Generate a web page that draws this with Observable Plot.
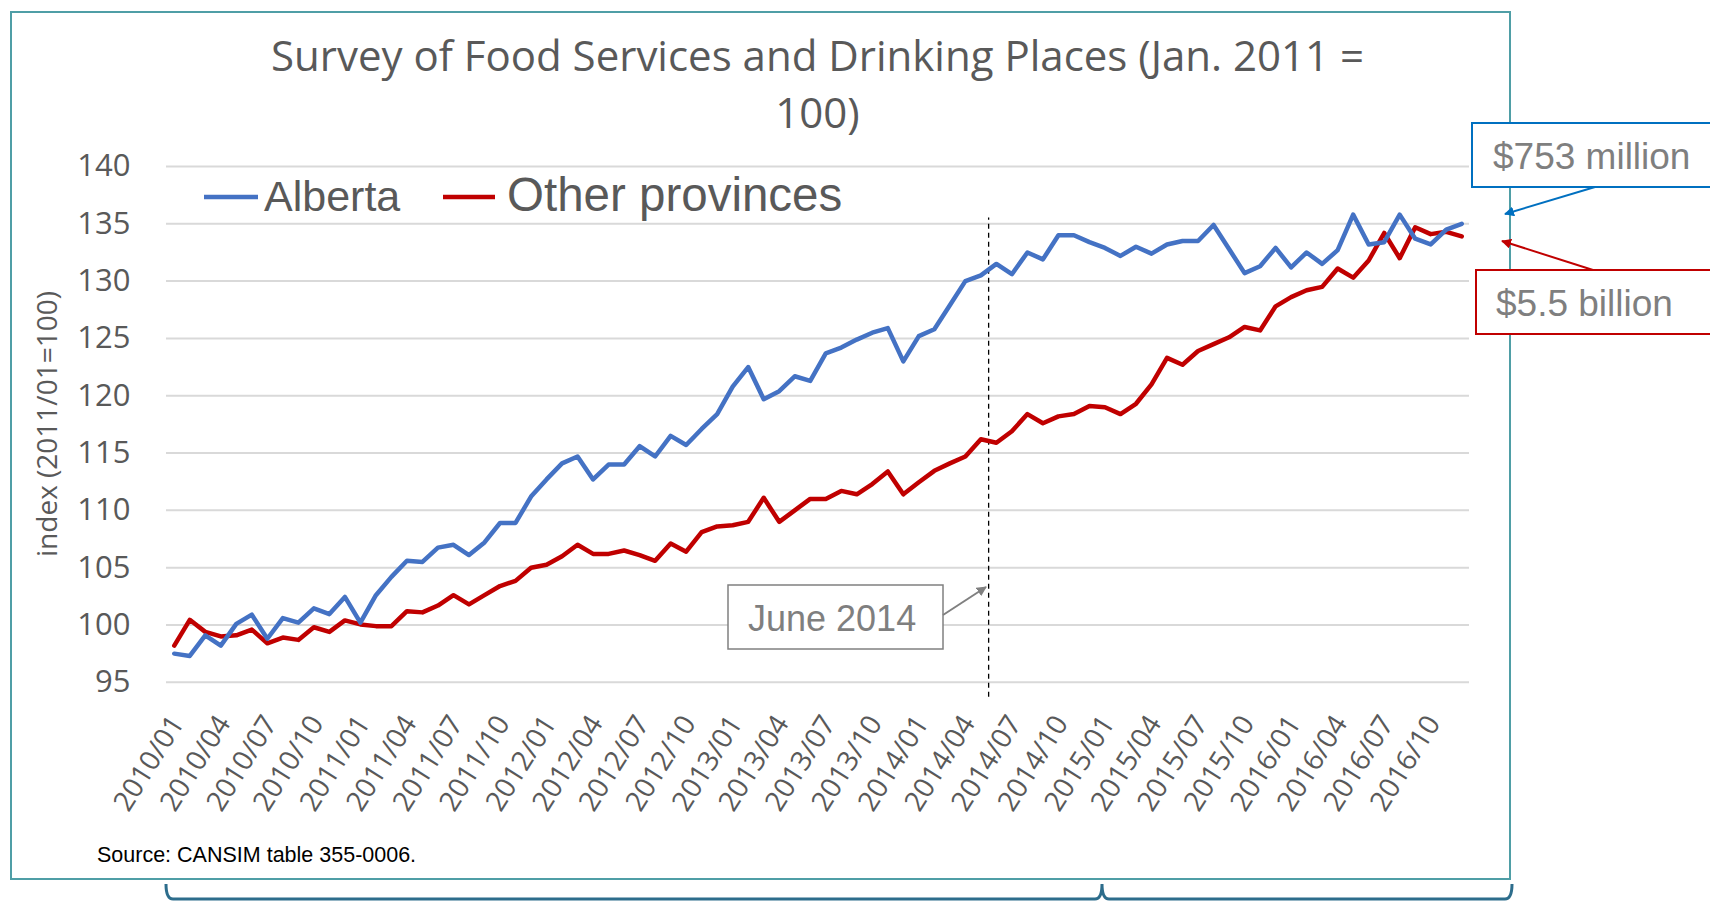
<!DOCTYPE html>
<html>
<head>
<meta charset="utf-8">
<script src="https://cdn.jsdelivr.net/npm/d3@7"></script>
<script src="https://cdn.jsdelivr.net/npm/@observablehq/plot@0.6"></script>
<style>
  html, body { margin: 0; padding: 0; background: #fff; }
  #stage { position: relative; width: 1710px; height: 901px; overflow: hidden; background: #fff; }
  .abs { position: absolute; }
  #frame { left: 10px; top: 11px; width: 1501px; height: 869px; border: 2px solid #4f9ea6; box-sizing: border-box; }
  #title { left: 166px; top: 26px; width: 1303px; text-align: center; font-family: "Open Sans", sans-serif;
           font-size: 42px; line-height: 57px; color: #595959; }
  #source { left: 97px; top: 843px; font-family: "Liberation Sans", Arial, sans-serif; font-size: 21.5px; color: #000; }
  #chart { left: 0; top: 0; }
  #overlay { left: 0; top: 0; }
</style>
</head>
<body>
<div id="stage">
  <div id="frame" class="abs"></div>
  <div id="chart" class="abs"></div>
  <div id="title" class="abs">Survey of Food Services and Drinking Places (Jan. 2011 =<br>100)</div>
  <div id="source" class="abs">Source: CANSIM table 355-0006.</div>
  <svg id="overlay" class="abs" width="1710" height="901" xmlns="http://www.w3.org/2000/svg">
    <defs>
      <marker id="ahBlue" viewBox="0 0 10 10" refX="9" refY="5" markerWidth="5" markerHeight="5" orient="auto"><path d="M0,0 L10,5 L0,10 z" fill="#0070C0"/></marker>
      <marker id="ahRed" viewBox="0 0 10 10" refX="9" refY="5" markerWidth="5" markerHeight="5" orient="auto"><path d="M0,0 L10,5 L0,10 z" fill="#C00000"/></marker>
      <marker id="ahGray" viewBox="0 0 10 10" refX="9" refY="5" markerWidth="5" markerHeight="5" orient="auto"><path d="M0,0 L10,5 L0,10 z" fill="#808080"/></marker>
    </defs>
    <!-- bottom bracket -->
    <path d="M166,884 Q166,899 173,899 H1095 Q1102,899 1102,884 M1102,884 Q1102,899 1109,899 H1505 Q1512,899 1512,884" fill="none" stroke="#2d6d8c" stroke-width="3"/>
    <!-- y axis title -->
    <text transform="translate(50,424) rotate(-90)" text-anchor="middle" dominant-baseline="middle"
          font-family="Open Sans, sans-serif" font-size="28" fill="#595959">index (2011/01=100)</text>
    <!-- legend -->
    <line x1="204" y1="197" x2="258" y2="197" stroke="#4472C4" stroke-width="4.5"/>
    <text x="264" y="211" font-family="Liberation Sans, Arial, sans-serif" font-size="43" fill="#595959">Alberta</text>
    <line x1="443" y1="197" x2="495" y2="197" stroke="#C00000" stroke-width="4.5"/>
    <text x="507" y="211" font-family="Liberation Sans, Arial, sans-serif" font-size="47.5" fill="#595959">Other provinces</text>
    <!-- June 2014 callout -->
    <rect x="728" y="585" width="215" height="64" fill="#fff" stroke="#808080" stroke-width="1.5"/>
    <text x="748" y="631" font-family="Liberation Sans, Arial, sans-serif" font-size="36" fill="#7f7f7f">June 2014</text>
    <line x1="943" y1="615" x2="986" y2="587" stroke="#808080" stroke-width="2" marker-end="url(#ahGray)"/>
    <!-- $753 million callout -->
    <rect x="1472" y="123" width="260" height="64" fill="#fff" stroke="#0070C0" stroke-width="2"/>
    <text x="1493" y="169" font-family="Liberation Sans, Arial, sans-serif" font-size="37" fill="#7f7f7f">$753 million</text>
    <line x1="1595" y1="187" x2="1505" y2="214" stroke="#0070C0" stroke-width="2" marker-end="url(#ahBlue)"/>
    <!-- $5.5 billion callout -->
    <rect x="1476" y="270" width="260" height="64" fill="#fff" stroke="#C00000" stroke-width="2"/>
    <text x="1496" y="316" font-family="Liberation Sans, Arial, sans-serif" font-size="37" fill="#7f7f7f">$5.5 billion</text>
    <line x1="1593" y1="270" x2="1502" y2="241" stroke="#C00000" stroke-width="2" marker-end="url(#ahRed)"/>
  </svg>
</div>
<script>
// ---- data ----
const months = d3.utcMonths(new Date(Date.UTC(2010, 0, 1)), new Date(Date.UTC(2017, 0, 1))).map(d3.utcFormat("%Y/%m"));

const tickLabels = [
  "2010/01","2010/04","2010/07","2010/10","2011/01","2011/04","2011/07","2011/10",
  "2012/01","2012/04","2012/07","2012/10","2013/01","2013/04","2013/07","2013/10",
  "2014/01","2014/04","2014/07","2014/10","2015/01","2015/04","2015/07","2015/10",
  "2016/01","2016/04","2016/07","2016/10"
];

const yTicks = [95, 100, 105, 110, 115, 120, 125, 130, 135, 140];

const alberta = [
  97.5, 97.3, 99.1, 98.2, 100.1, 100.9, 98.8, 100.6, 100.2, 101.45, 100.95, 102.45,
  100.2, 102.6, 104.2, 105.6, 105.5, 106.75, 107.0, 106.1, 107.2, 108.9, 108.9, 111.2,
  112.7, 114.1, 114.7, 112.7, 114.0, 114.0, 115.6, 114.7, 116.5, 115.7, 117.1, 118.4,
  120.8, 122.5, 119.7, 120.4, 121.7, 121.3, 123.7, 124.2, 124.9, 125.5, 125.9, 123.0,
  125.2, 125.8, 127.9, 130.0, 130.5, 131.5, 130.6, 132.5, 131.9, 134.0, 134.0, 133.4,
  132.9, 132.2, 133.0, 132.4, 133.2, 133.5, 133.5, 134.9, 132.8, 130.7, 131.3, 132.9,
  131.2, 132.5, 131.5, 132.7, 135.8, 133.2, 133.4, 135.8, 133.7, 133.2, 134.5, 135.0
];

const otherProvinces = [
  98.2, 100.45, 99.4, 99.0, 99.1, 99.6, 98.4, 98.9, 98.7, 99.8, 99.4, 100.4,
  100.05, 99.9, 99.9, 101.2, 101.1, 101.7, 102.6, 101.8, 102.6, 103.4, 103.85, 105.0,
  105.25, 106.0, 107.0, 106.2, 106.2, 106.5, 106.1, 105.6, 107.1, 106.4, 108.1, 108.6,
  108.7, 109.0, 111.1, 109.0, 110.0, 111.0, 111.0, 111.7, 111.4, 112.3, 113.4, 111.4,
  112.45, 113.45, 114.1, 114.7, 116.2, 115.9, 116.9, 118.4, 117.6, 118.2, 118.4, 119.1,
  119.0, 118.4, 119.3, 121.0, 123.3, 122.7, 123.9, 124.5, 125.1, 126.0, 125.7, 127.8,
  128.6, 129.2, 129.5, 131.1, 130.3, 131.8, 134.2, 132.0, 134.7, 134.1, 134.3, 133.9
];

const eventMonth = "2014/06";          // June 2014 marker
const eventRange = [93.7, 135.5];      // vertical extent of the dashed marker (index units)

// ---- build ----
const seriesA = months.map((m, i) => ({i, month: m, v: alberta[i]}));
const seriesO = months.map((m, i) => ({i, month: m, v: otherProvinces[i]}));
const tickIdx = tickLabels.map(t => months.indexOf(t));
const eventX = months.indexOf(eventMonth) - 0.5;

const W = 1710, H = 840;
const chart = Plot.plot({
  width: W,
  height: H,
  marginLeft: 166,
  marginRight: 241,
  marginTop: 166,
  marginBottom: H - 681.8,
  style: {background: "transparent", overflow: "visible", fontFamily: "Open Sans, sans-serif"},
  x: {domain: [-0.5, months.length - 0.5]},
  y: {domain: [95, 140]},
  marks: [
    Plot.gridY(yTicks, {stroke: "#d9d9d9", strokeOpacity: 1, strokeWidth: 2}),
    Plot.axisY({ticks: yTicks, tickSize: 0, tickPadding: 36, fontSize: 31, fill: "#595959", label: null}),
    Plot.axisX({ticks: tickIdx, tickFormat: i => months[i], tickRotate: -58, tickSize: 0, tickPadding: 36, dx: 3,
                fontSize: 28, fill: "#595959", label: null}),
    Plot.ruleX([eventX], {y1: eventRange[0], y2: eventRange[1], stroke: "#000", strokeWidth: 1.3, strokeDasharray: "5,4"}),
    Plot.line(seriesO, {x: "i", y: "v", stroke: "#C00000", strokeWidth: 4.5, strokeLinejoin: "round", strokeLinecap: "round"}),
    Plot.line(seriesA, {x: "i", y: "v", stroke: "#4472C4", strokeWidth: 4.5, strokeLinejoin: "round", strokeLinecap: "round"})
  ]
});
document.getElementById("chart").appendChild(chart);
</script>
</body>
</html>
